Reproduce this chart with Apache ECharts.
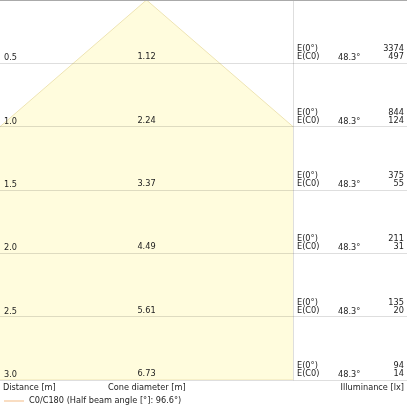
<!DOCTYPE html>
<html><head><meta charset="utf-8">
<script src="https://cdn.jsdelivr.net/npm/echarts@6/dist/echarts.min.js"></script>
<style>html,body{margin:0;padding:0;background:#fff}#c{width:407px;height:407px}</style>
</head><body><div id="c"></div>
<script>
var distances = [0.5, 1.0, 1.5, 2.0, 2.5, 3.0];
var diameters = [1.12, 2.24, 3.37, 4.49, 5.61, 6.73];
var eCenter = [3374, 844, 375, 211, 135, 94];
var eC0 = [497, 124, 55, 31, 20, 14];
var halfAngle = 48.3;
var beamLabel = 'C0/C180 (Half beam angle [°]: 96.6°)';

var FONT = 'DejaVu Sans';
var FS = 8.2;
var TC = '#222';
var GRID_C = 'rgba(0,0,0,0.13)';

var chart = echarts.init(document.getElementById('c'), null, {renderer: 'canvas'});

var conePts = [[0, 0]];
for (var i = 0; i < distances.length; i++) conePts.push([-diameters[i] / 2, distances[i]]);
for (var j = distances.length - 1; j >= 0; j--) conePts.push([diameters[j] / 2, distances[j]]);

var rows = distances.map(function (d, i) { return [d, diameters[i], eCenter[i], eC0[i]]; });

function txt(x, y, s, align) {
  return {type: 'text', x: x, y: y, style: {text: s, fill: TC, font: FS + 'px "' + FONT + '"', textAlign: align || 'left', textVerticalAlign: 'bottom'}};
}

var option = {
  animation: false,
  grid: [
    {left: 0, top: 0, width: 293, height: 380},
    {left: 293, top: 0, width: 114, height: 380}
  ],
  xAxis: [
    {gridIndex: 0, type: 'value', min: -1.12, max: 1.12, position: 'top', z: 5, axisLabel: {show: false}, axisTick: {show: false}, splitLine: {show: false}, axisLine: {show: true, lineStyle: {color: '#aaa', width: 1}}},
    {gridIndex: 1, type: 'value', min: 0, max: 1, position: 'top', z: 5, axisLabel: {show: false}, axisTick: {show: false}, splitLine: {show: false}, axisLine: {show: true, lineStyle: {color: '#aaa', width: 1}}}
  ],
  yAxis: [
    {gridIndex: 0, type: 'value', min: 0, max: 3, interval: 0.5, inverse: true, z: 4, axisLabel: {show: false}, axisTick: {show: false}, axisLine: {show: false}, splitLine: {show: true, lineStyle: {color: GRID_C, width: 1}}},
    {gridIndex: 1, type: 'value', min: 0, max: 3, interval: 0.5, inverse: true, z: 4, axisLabel: {show: false}, axisTick: {show: false}, axisLine: {show: true, lineStyle: {color: GRID_C, width: 1}}, splitLine: {show: true, lineStyle: {color: GRID_C, width: 1}}}
  ],
  legend: {
    left: 4, top: 397, padding: 0, itemWidth: 20, itemHeight: 1.5, itemGap: 4,
    icon: 'rect',
    textStyle: {fontFamily: FONT, fontSize: FS, color: TC, padding: [0, 0, 0, 0]},
    data: [beamLabel]
  },
  graphic: [
    txt(3, 392, 'Distance [m]'),
    txt(108, 392, 'Cone diameter [m]'),
    txt(404, 392, 'Illuminance [lx]', 'right')
  ],
  series: [
    {
      name: beamLabel, type: 'custom', xAxisIndex: 0, yAxisIndex: 0, clip: true,
      itemStyle: {color: '#f7d2ae'},
      data: [0],
      renderItem: function (params, api) {
        var pts = conePts.map(function (p) { return api.coord(p); });
        return {type: 'polygon', shape: {points: pts}, style: {fill: '#fffcdd', stroke: '#eee4b4', lineWidth: 1}};
      },
      z: 1
    },
    {
      type: 'custom', xAxisIndex: 0, yAxisIndex: 0, data: rows, z: 6, silent: true,
      renderItem: function (params, api) {
        var d = api.value(0);
        var p = api.coord([0, d]);
        var i = params.dataIndex;
        return {type: 'group', children: [
          txt(4, p[1] - 1, distances[i].toFixed(1)),
          txt(p[0], p[1] - 2, diameters[i].toFixed(2), 'center')
        ]};
      }
    },
    {
      type: 'custom', xAxisIndex: 1, yAxisIndex: 1, data: rows, z: 6, silent: true,
      renderItem: function (params, api) {
        var d = api.value(0);
        var p = api.coord([0, d]);
        var x0 = p[0];
        var i = params.dataIndex;
        return {type: 'group', children: [
          txt(x0 + 4, p[1] - 10, 'E(0°)'),
          txt(x0 + 4, p[1] - 2, 'E(C0)'),
          txt(x0 + 45, p[1] - 1, halfAngle.toFixed(1) + '°'),
          txt(x0 + 111, p[1] - 10, String(eCenter[i]), 'right'),
          txt(x0 + 111, p[1] - 2, String(eC0[i]), 'right')
        ]};
      }
    }
  ]
};
chart.setOption(option);
</script>
</body></html>
